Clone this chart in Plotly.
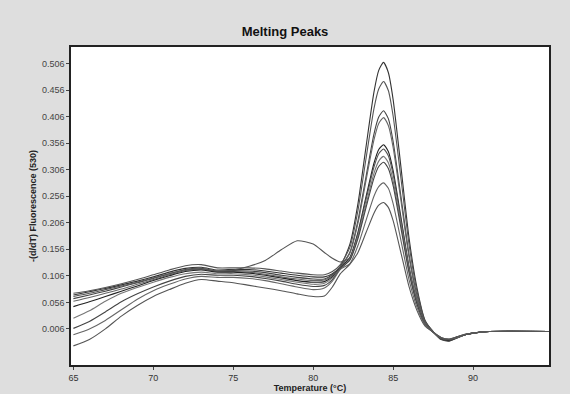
import plotly.graph_objects as go

temps = [65, 66, 67, 68, 69, 70, 71, 72, 73, 74, 75, 76, 77, 78, 79, 80, 80.7, 81.2, 81.7,
         82.3, 82.8, 83.3, 83.8, 84.1, 84.4, 84.7, 85, 85.5, 86, 86.5, 87, 87.5, 88, 88.5, 89, 89.5, 90, 91, 95]

c1 = [0.070, 0.076, 0.082, 0.089, 0.096, 0.104, 0.113, 0.120, 0.122, 0.117, 0.118, 0.118, 0.115, 0.111, 0.107, 0.104, 0.104, 0.110, 0.124,
      0.166, 0.242, 0.348, 0.452, 0.493, 0.508, 0.489, 0.438, 0.308, 0.176, 0.082, 0.022, 0.001, -0.014, -0.017, -0.011, -0.005, -0.002, 0.001, 0.001]
c2 = [0.073, 0.078, 0.084, 0.091, 0.099, 0.108, 0.117, 0.125, 0.127, 0.121, 0.121, 0.121, 0.119, 0.115, 0.111, 0.108, 0.108, 0.114, 0.127,
      0.160, 0.229, 0.326, 0.421, 0.458, 0.472, 0.455, 0.407, 0.287, 0.164, 0.076, 0.021, 0.001, -0.013, -0.016, -0.011, -0.005, -0.002, 0.001, 0.001]
c3 = [0.063, 0.070, 0.077, 0.085, 0.093, 0.101, 0.110, 0.118, 0.120, 0.115, 0.116, 0.115, 0.112, 0.107, 0.103, 0.100, 0.100, 0.108, 0.123,
      0.151, 0.210, 0.292, 0.373, 0.405, 0.417, 0.402, 0.359, 0.253, 0.145, 0.068, 0.019, 0.001, -0.013, -0.016, -0.010, -0.005, -0.002, 0.001, 0.001]
c4 = [0.058, 0.065, 0.073, 0.081, 0.090, 0.099, 0.108, 0.116, 0.118, 0.114, 0.114, 0.113, 0.109, 0.104, 0.100, 0.097, 0.098, 0.106, 0.122,
      0.149, 0.205, 0.285, 0.362, 0.393, 0.404, 0.389, 0.348, 0.245, 0.140, 0.065, 0.018, 0.001, -0.012, -0.015, -0.010, -0.005, -0.002, 0.001, 0.001]
c5 = [0.048, 0.057, 0.067, 0.077, 0.087, 0.097, 0.106, 0.114, 0.117, 0.113, 0.113, 0.111, 0.107, 0.102, 0.097, 0.094, 0.095, 0.104, 0.121,
      0.141, 0.188, 0.254, 0.318, 0.344, 0.353, 0.340, 0.304, 0.214, 0.122, 0.057, 0.016, 0.000, -0.012, -0.015, -0.010, -0.005, -0.002, 0.001, 0.001]
c6 = [0.067, 0.073, 0.080, 0.087, 0.094, 0.102, 0.110, 0.117, 0.119, 0.115, 0.117, 0.124, 0.135, 0.155, 0.172, 0.166, 0.150, 0.139, 0.132,
      0.140, 0.185, 0.249, 0.311, 0.336, 0.345, 0.332, 0.297, 0.209, 0.120, 0.056, 0.016, 0.000, -0.012, -0.014, -0.010, -0.005, -0.002, 0.001, 0.001]
c7 = [0.026, 0.040, 0.058, 0.073, 0.084, 0.094, 0.103, 0.110, 0.113, 0.110, 0.110, 0.108, 0.104, 0.099, 0.094, 0.090, 0.092, 0.102, 0.120,
      0.137, 0.180, 0.240, 0.299, 0.322, 0.331, 0.319, 0.285, 0.201, 0.115, 0.054, 0.015, 0.000, -0.011, -0.014, -0.010, -0.005, -0.002, 0.001, 0.001]
c8 = [0.007, 0.020, 0.038, 0.057, 0.072, 0.085, 0.096, 0.105, 0.109, 0.107, 0.107, 0.105, 0.101, 0.096, 0.090, 0.086, 0.088, 0.099, 0.119,
      0.136, 0.176, 0.234, 0.290, 0.312, 0.320, 0.308, 0.276, 0.194, 0.111, 0.052, 0.014, 0.000, -0.011, -0.014, -0.009, -0.005, -0.002, 0.001, 0.001]
c9 = [-0.005, 0.006, 0.022, 0.042, 0.062, 0.078, 0.090, 0.100, 0.105, 0.103, 0.103, 0.101, 0.097, 0.091, 0.085, 0.080, 0.083, 0.096, 0.118,
      0.129, 0.163, 0.210, 0.256, 0.274, 0.281, 0.271, 0.242, 0.171, 0.098, 0.046, 0.013, 0.000, -0.010, -0.013, -0.009, -0.004, -0.002, 0.001, 0.001]
c10 = [-0.026, -0.014, 0.006, 0.030, 0.050, 0.067, 0.080, 0.092, 0.099, 0.096, 0.093, 0.088, 0.083, 0.078, 0.072, 0.067, 0.068, 0.085, 0.110,
       0.128, 0.150, 0.187, 0.224, 0.239, 0.244, 0.235, 0.210, 0.148, 0.085, 0.040, 0.011, 0.000, -0.010, -0.013, -0.009, -0.004, -0.002, 0.001, 0.001]

series = [c1, c2, c3, c4, c5, c6, c7, c8, c9, c10]
colors = ["#333333", "#555555", "#444444", "#666666", "#222222", "#555555", "#777777", "#444444", "#666666", "#555555"]

y_tickvals = [0.006, 0.056, 0.106, 0.156, 0.206, 0.256, 0.306, 0.356, 0.406, 0.456, 0.506]
y_ticktext = ["0.006", "0.056", "0.106", "0.156", "0.206", "0.256", "0.306", "0.356", "0.406", "0.456", "0.506"]
x_tickvals = [65, 70, 75, 80, 85, 90]

fig = go.Figure()
for ys, col in zip(series, colors):
    fig.add_trace(go.Scatter(x=temps, y=ys, mode="lines",
                             line=dict(color=col, width=1.1, shape="spline", smoothing=0.6),
                             showlegend=False, hoverinfo="skip"))

fig.update_layout(
    width=570, height=394,
    margin=dict(l=71, r=21, t=47, b=29),
    paper_bgcolor="#dedede",
    plot_bgcolor="white",
    title=dict(text="<b>Melting Peaks</b>", x=0.5, xanchor="center", y=0.92, yanchor="middle",
               font=dict(family="Liberation Sans, Arial", size=13, color="#111111")),
    font=dict(family="Liberation Sans, Arial", size=9, color="#333333"),
)
fig.update_xaxes(range=[64.85, 94.75], tickvals=x_tickvals, ticks="outside", ticklen=3,
                 showgrid=False, zeroline=False, showline=True, linecolor="#222222", linewidth=1.5,
                 mirror=True, tickfont=dict(size=9, color="#333333"),
                 title=dict(text="<b>Temperature (°C)</b>", standoff=2, font=dict(size=9, color="#222222")),
                 automargin=False)
fig.update_yaxes(range=[-0.062, 0.537], tickvals=y_tickvals, ticktext=y_ticktext, ticks="outside", ticklen=3,
                 showgrid=False, zeroline=False, showline=True, linecolor="#222222", linewidth=1.5,
                 mirror=True, tickfont=dict(size=9, color="#444444"),
                 title=dict(text="<b>-(d/dT) Fluorescence (530)</b>", standoff=4, font=dict(size=9, color="#222222")),
                 automargin=False)

fig.write_html("out.html")
